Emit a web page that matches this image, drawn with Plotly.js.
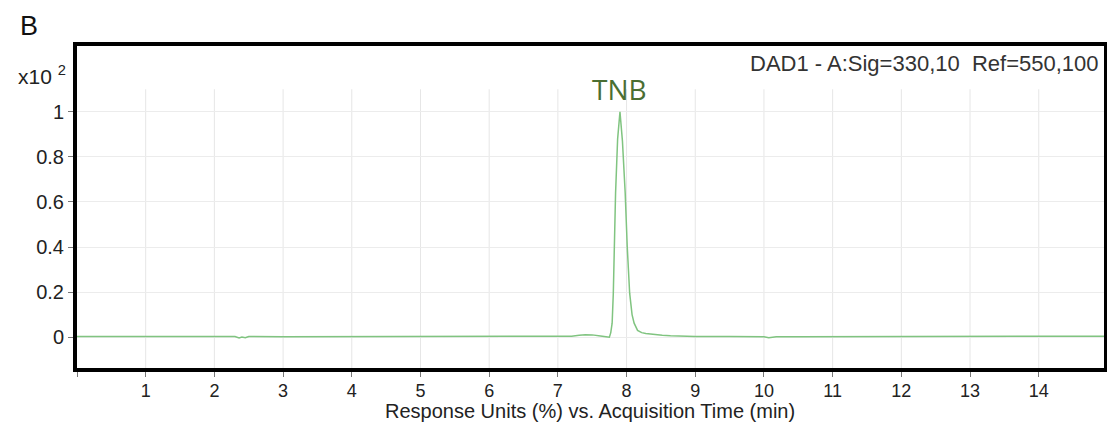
<!DOCTYPE html>
<html><head><meta charset="utf-8">
<script src="https://cdn.plot.ly/plotly-3.0.1.min.js"></script>
<style>html,body{margin:0;padding:0;background:#fff}#chart{width:1107px;height:423px}</style>
</head><body><div id="chart"></div>
<script>
// Acquisition time (min)
const time = [0, 0.5, 1, 1.5, 2, 2.3, 2.36, 2.4, 2.45, 2.5, 3, 3.5, 4, 4.5, 4.65, 4.7, 5, 5.5, 6, 6.4, 6.5, 7, 7.2, 7.31, 7.4, 7.5, 7.55, 7.62, 7.7, 7.75, 7.77, 7.79, 7.807, 7.84, 7.87, 7.904, 7.94, 7.98, 8.01, 8.045, 8.08, 8.11, 8.16, 8.22, 8.28, 8.4, 8.52, 8.64, 8.76, 9, 9.5, 10, 10.07, 10.12, 10.18, 10.5, 11, 11.5, 12, 12.5, 13, 13.5, 13.7, 14, 14.5, 14.95];
// Response (x10^2 %)
const response = [0.003, 0.003, 0.003, 0.003, 0.003, 0.003, -0.004, 0.0, -0.003, 0.003, 0.002, 0.002, 0.002, 0.002, 0.004, 0.001, 0.001, 0.001, 0.002, 0.002, 0.004, 0.003, 0.004, 0.008, 0.011, 0.010, 0.007, 0.005, 0.002, 0.0, 0.02, 0.062, 0.195, 0.64, 0.88, 1.0, 0.87, 0.64, 0.40, 0.195, 0.10, 0.062, 0.03, 0.02, 0.016, 0.011, 0.008, 0.006, 0.004, 0.003, 0.003, 0.002, -0.003, -0.002, 0.002, 0.002, 0.002, 0.002, 0.002, 0.002, 0.002, 0.002, 0.004, 0.004, 0.004, 0.004];
const xTicks = [0, 1, 2, 3, 4, 5, 6, 7, 8, 9, 10, 11, 12, 13, 14];
const xTickText = ['', '1', '2', '3', '4', '5', '6', '7', '8', '9', '10', '11', '12', '13', '14'];
const yTicks = [0, 0.2, 0.4, 0.6, 0.8, 1];
const yTickText = ['0', '0.2', '0.4', '0.6', '0.8', '1'];
const peakName = 'TNB';
const peakTime = 7.9;
const signalLabel = 'DAD1 - A:Sig=330,10  Ref=550,100';

const font = 'Liberation Sans, Arial, sans-serif';
const gridShapes = xTicks.filter(v => v > 0).map(v => ({
  type: 'line', xref: 'x', yref: 'y', x0: v, x1: v, y0: -0.14, y1: 1.1,
  line: {color: '#e6e6e6', width: 1}, layer: 'below'
}));

const trace = {
  x: time, y: response, type: 'scatter', mode: 'lines',
  line: {color: '#80c480', width: 1.5}, hoverinfo: 'skip'
};

const layout = {
  width: 1107, height: 423,
  margin: {l: 77, r: 3, t: 46, b: 55},
  paper_bgcolor: '#fff', plot_bgcolor: '#fff',
  showlegend: false,
  font: {family: font, color: '#222', size: 19},
  xaxis: {
    range: [0, 14.95], tickvals: xTicks, ticktext: xTickText,
    showgrid: false, zeroline: false,
    showline: true, mirror: true, linecolor: '#000', linewidth: 4,
    ticks: 'outside', ticklen: 5, tickcolor: '#777', tickwidth: 1,
    ticklabelstandoff: -2,
    tickfont: {family: font, size: 18, color: '#222'}
  },
  yaxis: {
    range: [-0.137, 1.292], tickvals: yTicks, ticktext: yTickText,
    showgrid: true, gridcolor: '#ececec', gridwidth: 1, zeroline: false,
    showline: true, mirror: true, linecolor: '#000', linewidth: 4,
    ticks: 'outside', ticklen: 5, tickcolor: '#777', tickwidth: 1,
    tickfont: {family: font, size: 20, color: '#222'}
  },
  shapes: gridShapes,
  annotations: [
    {text: 'B', xref: 'paper', yref: 'paper', x: -0.047, y: 1.062, showarrow: false,
     font: {family: font, size: 27, color: '#111'}, xanchor: 'center', yanchor: 'middle'},
    {text: 'x10 <sup>2</sup>', xref: 'paper', yref: 'paper', x: -0.009, y: 0.91, showarrow: false,
     font: {family: font, size: 21, color: '#222'}, xanchor: 'right', yanchor: 'middle'},
    {text: signalLabel, xref: 'paper', yref: 'paper', x: 0.997, y: 0.947, showarrow: false,
     font: {family: font, size: 22, color: '#333'}, xanchor: 'right', yanchor: 'middle'},
    {text: peakName, xref: 'x', yref: 'y', x: peakTime, y: 1.102, showarrow: false,
     font: {family: 'Open Sans, sans-serif', size: 28, color: '#4a6e32'}, xanchor: 'center', yanchor: 'middle'},
    {text: 'Response Units (%) vs. Acquisition Time (min)', xref: 'paper', yref: 'paper', x: 0.4995, y: -0.132,
     showarrow: false, font: {family: font, size: 20, color: '#222'}, xanchor: 'center', yanchor: 'middle'}
  ]
};

Plotly.newPlot('chart', [trace], layout, {staticPlot: true, displayModeBar: false});
</script></body></html>
